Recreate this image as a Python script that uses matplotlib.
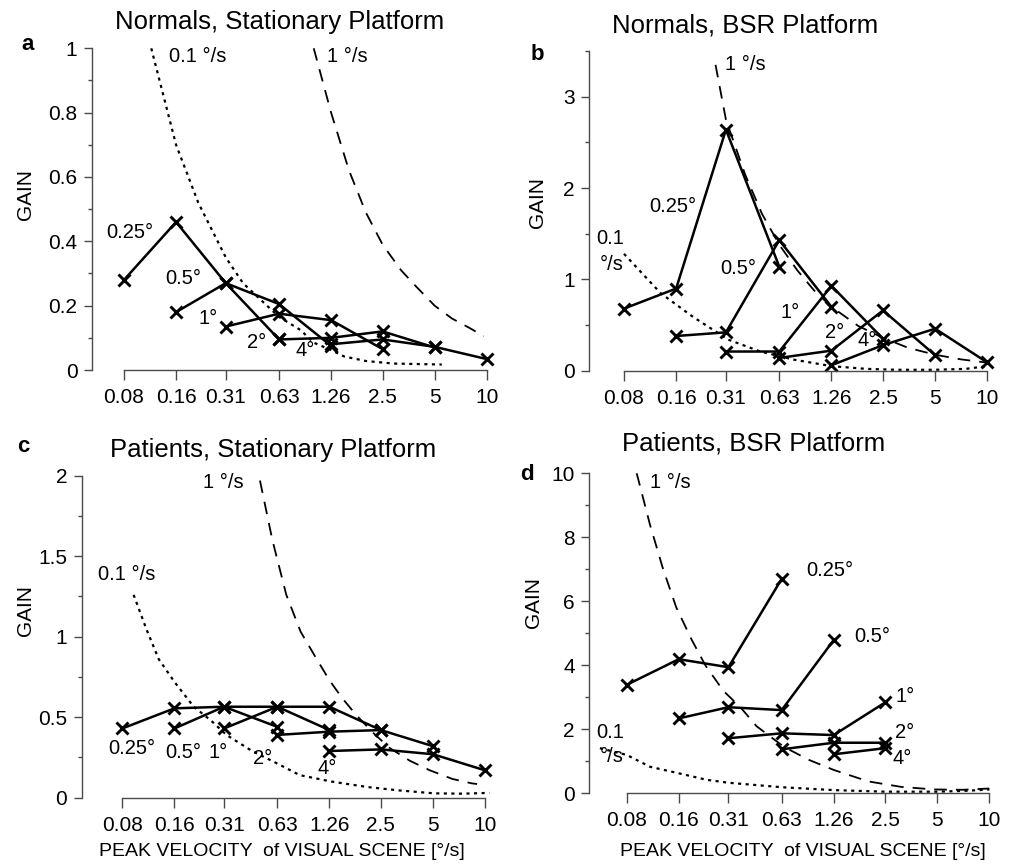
import numpy as np
import matplotlib
matplotlib.use('Agg')
import matplotlib.pyplot as plt
from matplotlib.ticker import MultipleLocator, FuncFormatter, NullLocator

plt.rcParams['font.family'] = ['Liberation Sans', 'DejaVu Sans']

W, H = 1011, 867

# Peak velocities of the visual scene [deg/s] (x categories)
velocity = [0.08, 0.16, 0.31, 0.63, 1.26, 2.5, 5, 10]
vel_labels = ['0.08', '0.16', '0.31', '0.63', '1.26', '2.5', '5', '10']
amp_labels = ['0.25°', '0.5°', '1°', '2°', '4°']

# Gains per stimulus amplitude; amplitude k starts at velocity[k]
norm_stat = [
    [0.28, 0.46, 0.27, 0.095],
    [0.18, 0.27, 0.205, 0.075],
    [0.135, 0.175, 0.155, 0.065],
    [0.095, 0.10, 0.12, 0.07],
    [0.08, 0.095, 0.072, 0.034],
]
norm_bsr = [
    [0.68, 0.90, 2.64, 1.14],
    [0.38, 0.42, 1.43, 0.70],
    [0.21, 0.21, 0.93, 0.35],
    [0.14, 0.22, 0.66, 0.17],
    [0.06, 0.28, 0.46, 0.09],
]
pat_stat = [
    [0.43, 0.555, 0.565, 0.44],
    [0.43, 0.565, 0.565, 0.42],
    [0.43, 0.565, 0.565, 0.42],
    [0.39, 0.41, 0.42, 0.32],
    [0.29, 0.30, 0.27, 0.17],
]
pat_bsr = [
    [3.39, 4.19, 3.94, 6.70],
    [2.34, 2.69, 2.60, 4.79],
    [1.72, 1.875, 1.82, 2.84],
    [1.375, 1.58, 1.58],
    [1.22, 1.41],
]

# Threshold curves: 0.1 deg/s (dotted) and 1 deg/s (dashed)
ns_slow_v = [0.115, 0.16, 0.215, 0.31, 0.39, 0.49, 0.63, 0.84, 1.0, 1.26, 1.5, 2.0, 2.9, 5.5]
ns_slow_g = [1.0, 0.7, 0.52, 0.35, 0.27, 0.22, 0.165, 0.124, 0.085, 0.062, 0.042, 0.028, 0.02, 0.017]
ns_fast_v = [1.0, 1.26, 1.6, 2.0, 2.5, 3.2, 3.9, 5, 6.3, 8, 9.6]
ns_fast_g = [1.0, 0.8, 0.62, 0.49, 0.39, 0.31, 0.26, 0.2, 0.16, 0.13, 0.105]

nb_slow_v = [0.08, 0.13, 0.2, 0.32, 0.49, 0.77, 1.26, 2.0, 3.0, 5.0, 7.5, 10]
nb_slow_g = [1.28, 0.85, 0.59, 0.34, 0.21, 0.12, 0.05, 0.02, 0.01, 0.01, 0.02, 0.05]
nb_fast_v = [0.27, 0.31, 0.4, 0.5, 0.63, 0.8, 1.0, 1.26, 1.8, 2.5, 3.5, 5, 7, 10]
nb_fast_g = [3.35, 2.75, 2.15, 1.72, 1.38, 1.1, 0.88, 0.70, 0.49, 0.36, 0.25, 0.175, 0.125, 0.088]

ps_slow_v = [0.093, 0.11, 0.13, 0.16, 0.207, 0.26, 0.32, 0.45, 0.625, 0.85, 1.3, 2.1, 3.2, 5.1, 7.5, 10.6]
ps_slow_g = [1.26, 1.05, 0.86, 0.72, 0.565, 0.48, 0.39, 0.29, 0.214, 0.14, 0.1, 0.066, 0.045, 0.027, 0.025, 0.03]
ps_fast_v = [0.5, 0.59, 0.71, 0.86, 1.065, 1.26, 1.49, 1.78, 2.22, 2.8, 3.67, 4.8, 6.5, 8.4, 9.0]
ps_fast_g = [1.97, 1.6, 1.26, 1.03, 0.86, 0.73, 0.62, 0.52, 0.41, 0.31, 0.23, 0.17, 0.116, 0.089, 0.085]

pb_slow_v = [0.056, 0.08, 0.109, 0.16, 0.233, 0.31, 0.63, 1.26, 2.5, 5, 7.5, 10]
pb_slow_g = [1.41, 1.2, 0.83, 0.625, 0.42, 0.33, 0.19, 0.1, 0.05, 0.05, 0.08, 0.12]
pb_fast_v = [0.0914, 0.109, 0.13, 0.155, 0.19, 0.228, 0.29, 0.365, 0.45, 0.65, 0.9, 1.26, 2.0, 3.1, 4.8, 7, 10]
pb_fast_g = [10, 8.4, 7.0, 5.8, 4.8, 4.0, 3.2, 2.68, 2.1, 1.45, 1.05, 0.73, 0.37, 0.2, 0.12, 0.11, 0.15]

fig = plt.figure(figsize=(W / 100, H / 100), dpi=100)
axis_grey = '#4a4a4a'


def put(x, y, s, **kw):
    # text placed in figure pixels (origin top left)
    kw.setdefault('fontsize', 14.5)
    kw.setdefault('ha', 'center')
    kw.setdefault('va', 'center')
    fig.text(x / W, 1 - y / H, s, **kw)


def panel(spine_x, x_first, x_last, y_zero, px_unit, ymax, ytop, major, minor):
    ppo = (x_last - x_first) / np.log2(10 / 0.08)
    right = x_last + 8
    top = y_zero - ymax * px_unit
    ax = fig.add_axes([spine_x / W, 1 - y_zero / H, (right - spine_x) / W, (y_zero - top) / H])
    ax.set_xscale('log', base=2)
    ax.set_xlim(0.08 * 2 ** (-(x_first - spine_x) / ppo), 10 * 2 ** ((right - x_last) / ppo))
    ax.set_ylim(0, ymax)
    ax.set_xticks(velocity, vel_labels)
    ax.xaxis.set_minor_locator(NullLocator())
    ax.yaxis.set_major_locator(MultipleLocator(major))
    ax.yaxis.set_minor_locator(MultipleLocator(minor))
    ax.yaxis.set_major_formatter(FuncFormatter(lambda v, p: f'{v:g}'))
    for s in ['top', 'right']:
        ax.spines[s].set_visible(False)
    ax.spines['left'].set_bounds(0, ytop)
    ax.spines['bottom'].set_bounds(0.08, 10)
    for s in ['left', 'bottom']:
        ax.spines[s].set_color(axis_grey)
        ax.spines[s].set_linewidth(1.0)
    ax.tick_params(axis='x', length=7.5, width=1, pad=5.5, labelsize=15, color=axis_grey)
    ax.tick_params(axis='y', which='major', length=5.5, width=1, pad=5, labelsize=15, color=axis_grey)
    ax.tick_params(axis='y', which='minor', length=3, width=1, color=axis_grey)
    ax.patch.set_visible(False)
    return ax


def draw(ax, series, slow_v, slow_g, fast_v, fast_g):
    ax.plot(slow_v, slow_g, color='black', lw=1.6, ls=(0, (1.4, 2.0)), clip_on=False)
    ax.plot(fast_v, fast_g, color='black', lw=1.3, ls=(0, (7, 5)), clip_on=False)
    for k, g in enumerate(series):
        ax.plot(velocity[k:k + len(g)], g, color='black', lw=1.8, marker='x',
                ms=8.5, mew=2.1, clip_on=False)


ax_a = panel(92, 124, 486.7, 370, 321.7, 1.05, 1.0, 0.2, 0.1)
draw(ax_a, norm_stat, ns_slow_v, ns_slow_g, ns_fast_v, ns_fast_g)
ax_b = panel(589.3, 624, 987.3, 370.7, 91.3, 3.55, 3.5, 1, 0.5)
draw(ax_b, norm_bsr, nb_slow_v, nb_slow_g, nb_fast_v, nb_fast_g)
ax_c = panel(81.7, 122.3, 485, 797.7, 161, 2.05, 2.0, 0.5, 0.25)
draw(ax_c, pat_stat, ps_slow_v, ps_slow_g, ps_fast_v, ps_fast_g)
ax_d = panel(589.3, 626.7, 989.3, 793.3, 32, 10.1, 10, 2, 1)
draw(ax_d, pat_bsr, pb_slow_v, pb_slow_g, pb_fast_v, pb_fast_g)

# titles, panel letters, axis labels
put(280, 22, 'Normals, Stationary Platform', fontsize=18.5)
put(745, 25, 'Normals, BSR Platform', fontsize=18.5)
put(273, 450, 'Patients, Stationary Platform', fontsize=18.5)
put(754, 443, 'Patients, BSR Platform', fontsize=18.5)
put(28, 45, 'a', fontsize=16, fontweight='bold')
put(537, 55, 'b', fontsize=16, fontweight='bold')
put(23, 447, 'c', fontsize=16, fontweight='bold')
put(527, 475, 'd', fontsize=16, fontweight='bold')
for gx, gy in [(25, 195), (537, 203), (25, 610), (533, 602)]:
    put(gx, gy, 'GAIN', fontsize=15, rotation=90)
put(282, 852, 'PEAK VELOCITY  of VISUAL SCENE [°/s]', fontsize=14)
put(803, 852, 'PEAK VELOCITY  of VISUAL SCENE [°/s]', fontsize=14)

# curve annotations
put(198, 57, '0.1 °/s')
put(347, 57, '1 °/s')
for (lx, ly), s in zip([(130, 233), (183, 278), (208, 318), (257, 342), (305, 350)], amp_labels):
    put(lx, ly, s)

put(745, 65, '1 °/s')
put(610, 238, '0.1')
put(612, 265, '°/s')
for (lx, ly), s in zip([(673, 207), (738, 268), (790, 312), (835, 332), (867, 340)], amp_labels):
    put(lx, ly, s)

put(223, 482, '1 °/s')
put(127, 575, '0.1 °/s')
for (lx, ly), s in zip([(132, 748), (183, 753), (218, 753), (263, 758), (327, 768)], amp_labels):
    put(lx, ly, s)

put(670, 483, '1 °/s')
put(610, 732, '0.1')
put(612, 757, '°/s')
for (lx, ly), s in zip([(830, 570), (872, 637), (905, 697), (905, 732), (902, 758)], amp_labels):
    put(lx, ly, s)

fig.savefig('out.png', dpi=100)
